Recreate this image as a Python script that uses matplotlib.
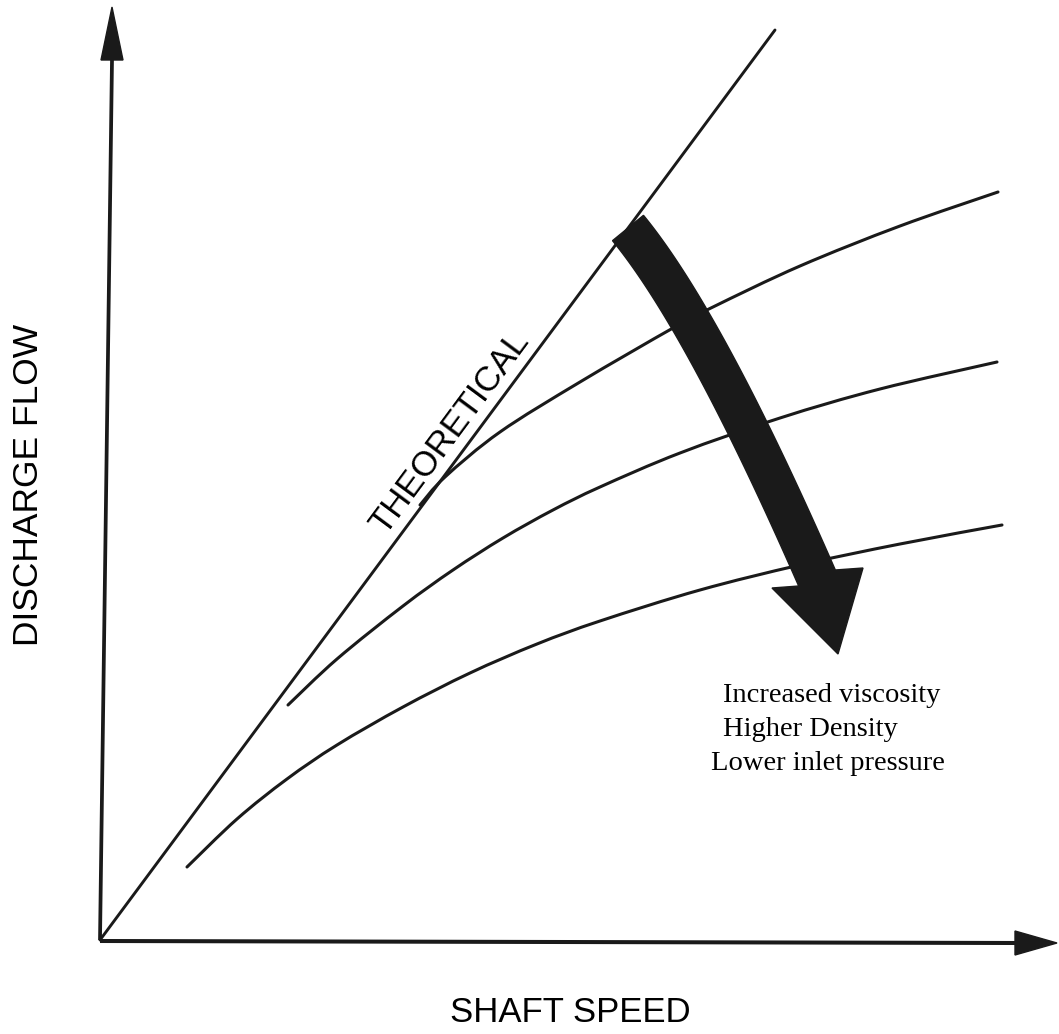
import numpy as np
import matplotlib.pyplot as plt
from matplotlib.patches import Polygon, PathPatch
from matplotlib.path import Path

# chart units: origin at the axes corner
theo_x = [0, 675]
theo_y = [0, 910]

c1_x = [320, 345, 400, 480, 573, 613, 700, 800, 898]
c1_y = [435, 463, 508, 558, 612, 633, 674, 714, 748]

c2_x = [188, 237, 303, 353, 403, 453, 500, 580, 680, 780, 897]
c2_y = [235, 281, 334, 370, 402, 430, 453, 487, 522, 551, 578]

c3_x = [87, 137, 187, 237, 303, 370, 437, 500, 600, 700, 800, 902]
c3_y = [73, 121, 161, 195, 233, 267, 296, 319, 350, 375, 396, 415]

notes = ['Increased viscosity', 'Higher Density', 'Lower inlet pressure']
notes_x = [623, 623, 611]
notes_y = [245, 210, 176]

# big curved arrow (bezier centre line + head)
arr_p0 = np.array([528, 712])
arr_ctrl = np.array([605, 618])
arr_p2 = np.array([717, 362])
arr_width = 40
head_left = [672, 352]
head_tip = [738, 286]
head_right = [763, 372]


def smooth_path(xs, ys):
    # catmull-rom through the read points, drawn as cubic bezier segments
    p = np.column_stack([xs, ys]).astype(float)
    verts = [p[0]]
    codes = [Path.MOVETO]
    for i in range(len(p) - 1):
        a = p[i - 1] if i > 0 else p[i]
        b, c = p[i], p[i + 1]
        d = p[i + 2] if i + 2 < len(p) else p[i + 1]
        verts += [b + (c - a) / 6, c - (d - b) / 6, c]
        codes += [Path.CURVE4] * 3
    return Path(verts, codes)


fig = plt.figure(figsize=(10.59, 10.34), dpi=100)
ax = fig.add_axes([0, 0, 1, 1])
ax.set_xlim(-100, 959)
ax.set_ylim(-94, 940)
ax.axis('off')

ink = '#1a1a1a'
lw = 2.2
# axes with arrow heads
ax.plot([0, 12], [0, 880], color=ink, lw=lw + 0.5, solid_capstyle='butt')
ax.add_patch(Polygon([[1, 880], [23, 880], [12, 933]], closed=True, color=ink))
ax.plot([0, 918], [-1, -3], color=ink, lw=lw + 0.7, solid_capstyle='butt')
ax.add_patch(Polygon([[915, 9], [915, -15], [957, -3]], closed=True, color=ink))

# curves
ax.plot(theo_x, theo_y, color=ink, lw=2.1, solid_capstyle='round')
for xs, ys in [(c1_x, c1_y), (c2_x, c2_y), (c3_x, c3_y)]:
    ax.add_patch(PathPatch(smooth_path(xs, ys), fill=False, edgecolor=ink,
                           lw=lw, capstyle='round', joinstyle='round'))

# arrow body
t = np.linspace(0, 1, 60)[:, None]
pts = (1 - t) ** 2 * arr_p0 + 2 * (1 - t) * t * arr_ctrl + t ** 2 * arr_p2
der = 2 * (1 - t) * (arr_ctrl - arr_p0) + 2 * t * (arr_p2 - arr_ctrl)
tan = der / np.linalg.norm(der, axis=1)[:, None]
nrm = np.column_stack([-tan[:, 1], tan[:, 0]])
side_a = pts + nrm * arr_width / 2
side_b = pts - nrm * arr_width / 2
if np.linalg.norm(side_a[-1] - head_left) > np.linalg.norm(side_b[-1] - head_left):
    side_a, side_b = side_b, side_a
poly = np.vstack([side_a, [head_left, head_tip, head_right], side_b[::-1]])
ax.add_patch(Polygon(poly, closed=True, color=ink, zorder=5))

# labels
sans = ['Liberation Sans', 'DejaVu Sans']
ax.text(-71, 455, 'DISCHARGE FLOW', rotation=90, ha='center', va='center',
        fontsize=25.5, family=sans)
ax.text(470, -72, 'SHAFT SPEED', ha='center', va='center', fontsize=25, family=sans)
ang = np.degrees(np.arctan2(theo_y[1], theo_x[1]))
ax.text(350, 507, 'THEORETICAL', rotation=ang, rotation_mode='anchor',
        ha='center', va='center', fontsize=25, family=sans)

for s, x, y in zip(notes, notes_x, notes_y):
    ax.text(x, y, s, ha='left', va='center', fontsize=20.5,
            family=['Liberation Serif', 'DejaVu Serif'])

fig.savefig('out.png', dpi=100)
